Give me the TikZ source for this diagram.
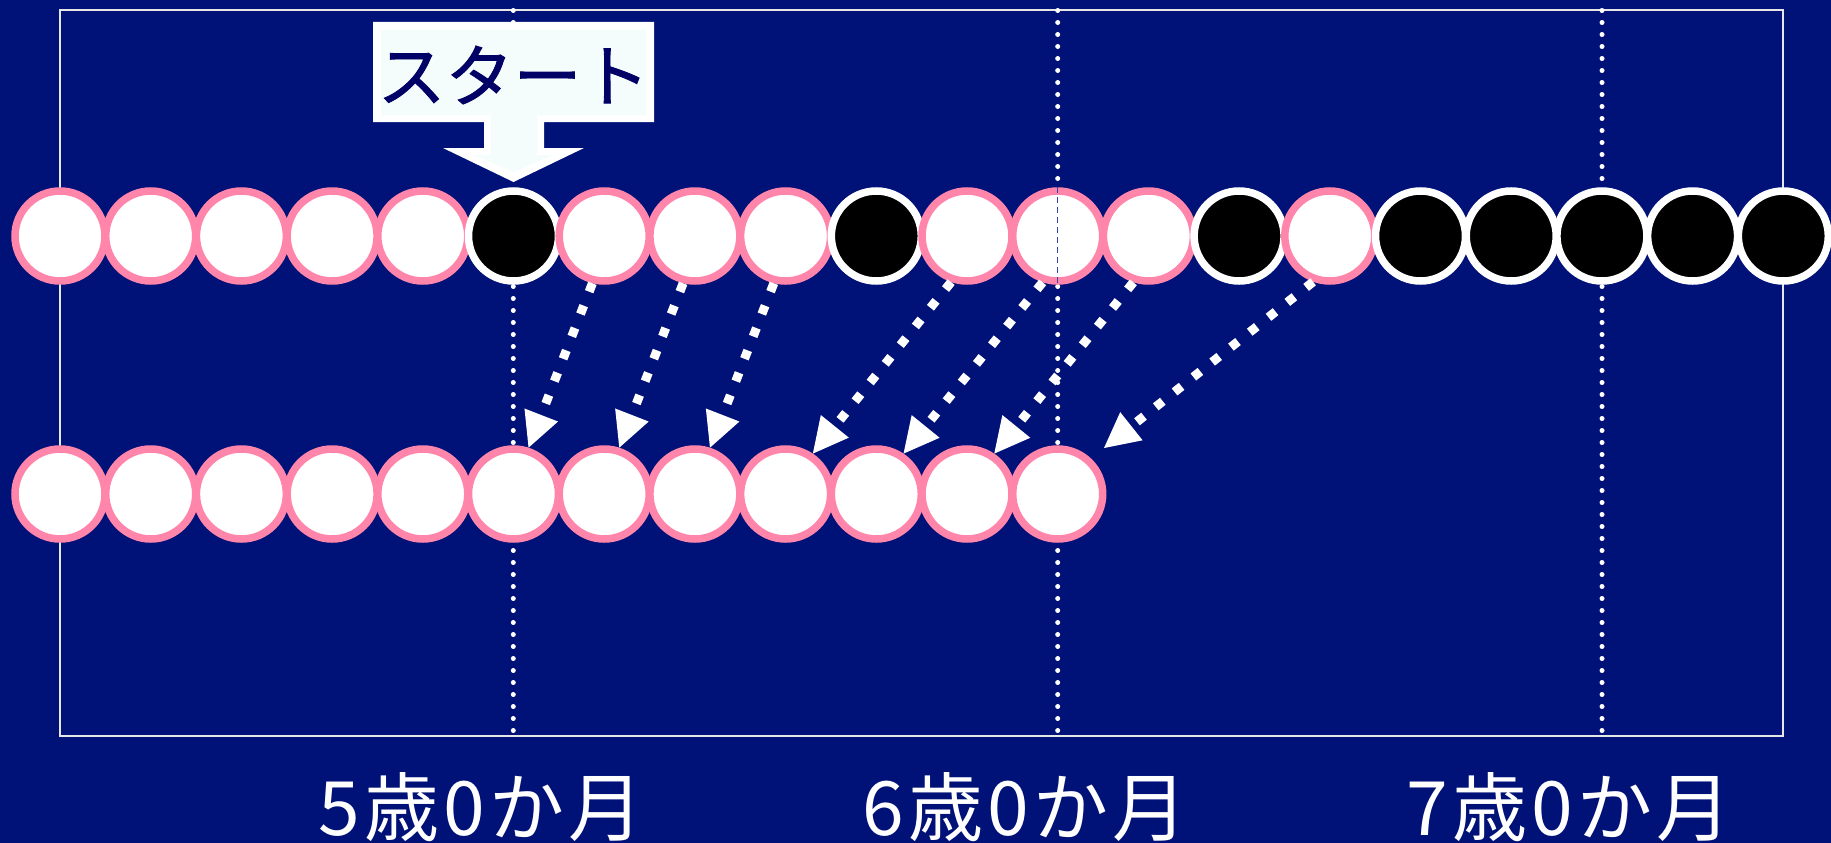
\documentclass[tikz,border=0pt]{standalone}
\usepackage{fontspec}
\newfontfamily\jp{Noto Sans CJK JP}
\newfontfamily\jpbold[FakeBold=1.2]{Noto Sans CJK JP}
\usetikzlibrary{arrows.meta}
\definecolor{bg}{HTML}{001177}
\definecolor{pinkring}{HTML}{FF85AB}
\definecolor{callfill}{HTML}{F5FCFC}
\definecolor{navytext}{HTML}{000066}
\definecolor{framecol}{HTML}{E6E6E6}
\definecolor{innerdash}{HTML}{3344AA}
\newcommand{\ks}{\kern4pt}
\begin{document}
\begin{tikzpicture}[x=1pt,y=-1pt,
  pinkball/.style={circle,draw=pinkring,fill=white,line width=7.5pt,minimum size=90pt,inner sep=0pt},
  blackball/.style={circle,draw=white,fill=black,line width=7.5pt,minimum size=90pt,inner sep=0pt},
  timeline/.style={draw=white,line width=5pt,line cap=round,dash pattern=on 0pt off 12pt},
  moveline/.style={draw=white,line width=9pt,dash pattern=on 9pt off 15pt,-{Triangle[length=35pt,width=36pt,line width=0pt]}},
  agelabel/.style={text=white,font=\jp\fontsize{75}{80}\selectfont,anchor=base,inner sep=0pt},
]
\useasboundingbox (0,0) rectangle (1831,843);
\fill[bg] (0,0) rectangle (1831,843);
% frame
\draw[framecol,line width=2pt] (60,10.5) rectangle (1783,735.5);
% age lines
\coordinate (l5top) at (513.3,10.5);  \coordinate (l5bot) at (513.3,735.5);
\coordinate (l6top) at (1057.7,10.5); \coordinate (l6bot) at (1057.7,735.5);
\coordinate (l7top) at (1602,10.5);   \coordinate (l7bot) at (1602,735.5);
\draw[timeline] (l5top) -- (l5bot);
\draw[timeline] (l6top) -- (l6bot);
\draw[timeline] (l7top) -- (l7bot);
% top row
\foreach \i/\s in {0/pinkball,1/pinkball,2/pinkball,3/pinkball,4/pinkball,5/blackball,6/pinkball,7/pinkball,8/pinkball,9/blackball,10/pinkball,11/pinkball,12/pinkball,13/blackball,14/pinkball,15/blackball,16/blackball,17/blackball,18/blackball,19/blackball}{
  \node[\s] (t\i) at ({60+90.7*\i},236) {};
}
% bottom row
\foreach \i in {0,...,11}{
  \node[pinkball] (b\i) at ({60+90.7*\i},494) {};
}
\draw[innerdash,line width=1.3pt,dash pattern=on 6pt off 4pt] (t11.north) -- (t11.south);
% moves
\coordinate (tip7) at (1104,448);
\draw[moveline] (t6.256.8) -- (b5.72.5);
\draw[moveline] (t7.256.8) -- (b6.72.5);
\draw[moveline] (t8.256.8) -- (b7.72.5);
\draw[moveline] (t10.251) -- (b8.56.5);
\draw[moveline] (t11.252) -- (b9.56.3);
\draw[moveline] (t12.252.5) -- (b10.56);
\draw[moveline] (t14.250) -- (tip7);
% start callout
\fill[white] (373,22) -- (654,22) -- (654,122) -- (544,122) -- (544,148) -- (584,148) -- (513.5,182) -- (443,148) -- (484,148) -- (484,122) -- (373,122) -- cycle;
\fill[callfill] (381,30) -- (646,30) -- (646,115) -- (537,115) -- (537,155) -- (553,155) -- (513.5,172) -- (474,155) -- (491,155) -- (491,115) -- (381,115) -- cycle;
\node[text=navytext,font=\jpbold\fontsize{68}{72}\selectfont,inner sep=0pt] (start) at (513.5,75) {スタート};
% labels
\node[agelabel] (age5) at (481,835) {5\ks 歳\ks 0\ks か\ks 月};
\node[agelabel] (age6) at (1025,835) {6\ks 歳\ks 0\ks か\ks 月};
\node[agelabel] (age7) at (1569,835) {7\ks 歳\ks 0\ks か\ks 月};
\end{tikzpicture}
\end{document}
